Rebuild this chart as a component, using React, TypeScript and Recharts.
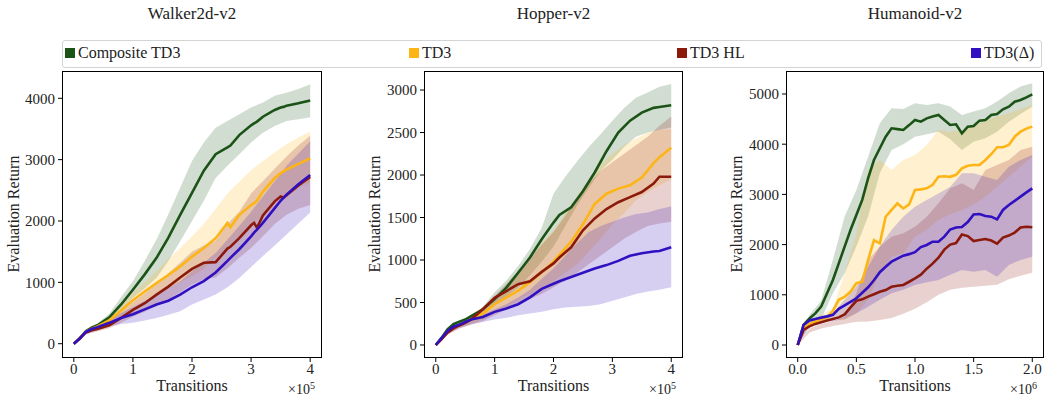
import React from "react";
import { ComposedChart, Line, Area, XAxis, YAxis } from "recharts";

const FONT = "'Liberation Serif', 'Times New Roman', Times, 'DejaVu Serif', 'Nimbus Roman', serif";
const NAMES = ["Composite TD3", "TD3", "TD3 HL", "TD3(Δ)"];
const COLORS = ["#1b5317", "#fdb515", "#8c1a0c", "#3010c0"];

// ---- Walker2d-v2 (x in 1e5 transitions)
const walkerT = [0, 0.1, 0.2, 0.3, 0.4, 0.6, 0.8, 1.0, 1.2, 1.4, 1.6, 1.8, 2.0, 2.2, 2.4, 2.6, 2.65, 2.8, 3.0, 3.05, 3.1, 3.2, 3.4, 3.5, 3.55, 3.6, 3.8, 4.0];
const walkerComposite = [0, 90, 200, 260, 300, 430, 640, 880, 1130, 1400, 1730, 2100, 2460, 2820, 3090, 3200, 3230, 3400, 3560, 3590, 3620, 3700, 3810, 3850, 3860, 3880, 3920, 3965];
const walkerTd3 = [0, 90, 190, 240, 280, 380, 540, 710, 850, 990, 1120, 1260, 1420, 1560, 1720, 1970, 1900, 2100, 2260, 2290, 2330, 2480, 2700, 2780, 2810, 2840, 2930, 3020];
const walkerHl = [0, 80, 180, 220, 240, 300, 420, 550, 660, 800, 930, 1080, 1220, 1320, 1330, 1550, 1580, 1720, 1930, 1970, 1890, 2090, 2320, 2400, 2380, 2420, 2580, 2720];
const walkerDelta = [0, 85, 190, 240, 270, 340, 420, 480, 560, 640, 700, 800, 920, 1020, 1160, 1350, 1400, 1540, 1750, 1810, 1860, 1970, 2210, 2330, 2380, 2430, 2600, 2750];

const walkerBandT = [0, 0.2, 0.4, 0.6, 0.8, 1.0, 1.2, 1.4, 1.6, 1.8, 2.0, 2.2, 2.4, 2.6, 2.8, 3.0, 3.2, 3.4, 3.6, 3.8, 4.0];
const walkerCompositeLo = [0, 170, 260, 360, 530, 750, 900, 1075, 1350, 1670, 2000, 2330, 2700, 2900, 3090, 3280, 3440, 3550, 3630, 3660, 3690];
const walkerCompositeHi = [0, 230, 330, 490, 760, 1020, 1350, 1700, 2110, 2540, 2980, 3280, 3520, 3630, 3740, 3850, 3930, 4040, 4090, 4150, 4230];
const walkerTd3Lo = [0, 160, 240, 320, 450, 590, 700, 800, 900, 1000, 1100, 1220, 1400, 1580, 1750, 1900, 2100, 2300, 2450, 2550, 2620];
const walkerTd3Hi = [0, 220, 320, 450, 640, 830, 1000, 1180, 1380, 1560, 1750, 1950, 2200, 2450, 2640, 2830, 2980, 3120, 3250, 3360, 3460];
const walkerHlLo = [0, 150, 200, 250, 340, 440, 520, 620, 720, 840, 960, 1050, 1080, 1230, 1400, 1560, 1750, 1950, 2100, 2200, 2260];
const walkerHlHi = [0, 210, 280, 380, 520, 680, 820, 980, 1150, 1320, 1500, 1600, 1680, 1950, 2150, 2450, 2650, 2850, 3050, 3230, 3390];
const walkerDeltaLo = [0, 150, 220, 280, 320, 340, 380, 420, 470, 530, 640, 720, 800, 920, 1070, 1250, 1430, 1600, 1780, 1960, 2140];
const walkerDeltaHi = [0, 220, 310, 400, 500, 600, 700, 800, 900, 1020, 1180, 1320, 1480, 1700, 1920, 2150, 2400, 2650, 2900, 3100, 3300];

// ---- Hopper-v2 (x in 1e5 transitions)
const hopperT = [0, 0.1, 0.2, 0.3, 0.4, 0.5, 0.6, 0.8, 1.0, 1.2, 1.4, 1.6, 1.8, 2.0, 2.1, 2.3, 2.5, 2.7, 2.9, 3.1, 3.3, 3.5, 3.7, 3.8, 4.0];
const hopperComposite = [0, 86, 185, 245, 275, 300, 340, 420, 540, 675, 850, 1030, 1245, 1440, 1530, 1620, 1810, 2030, 2280, 2500, 2640, 2735, 2790, 2800, 2820];
const hopperTd3 = [0, 70, 150, 200, 235, 265, 300, 370, 480, 560, 640, 740, 860, 980, 1060, 1215, 1420, 1660, 1780, 1840, 1880, 1970, 2140, 2210, 2320];
const hopperHl = [0, 70, 145, 195, 230, 260, 300, 420, 555, 635, 715, 750, 860, 960, 1030, 1150, 1350, 1490, 1600, 1680, 1740, 1800, 1900, 1980, 1980];
const hopperDelta = [0, 80, 165, 215, 240, 270, 300, 330, 390, 430, 480, 560, 660, 720, 750, 800, 850, 900, 940, 990, 1050, 1080, 1100, 1105, 1150];

const hopperBandT = [0, 0.2, 0.4, 0.6, 0.8, 1.0, 1.2, 1.4, 1.6, 1.8, 2.0, 2.2, 2.4, 2.6, 2.8, 3.0, 3.2, 3.4, 3.6, 3.8, 4.0];
const hopperCompositeLo = [0, 150, 230, 280, 350, 470, 570, 680, 820, 980, 1160, 1400, 1640, 1850, 2050, 2180, 2330, 2450, 2500, 2530, 2560];
const hopperCompositeHi = [0, 210, 280, 340, 450, 620, 760, 930, 1130, 1380, 1780, 1980, 2160, 2330, 2480, 2640, 2790, 2910, 2970, 3040, 3070];
const hopperTd3Lo = [0, 130, 210, 250, 300, 380, 450, 530, 600, 680, 750, 850, 950, 1100, 1250, 1420, 1550, 1700, 1800, 1880, 1950];
const hopperTd3Hi = [0, 190, 270, 330, 420, 560, 690, 830, 1000, 1200, 1350, 1550, 1750, 1950, 2130, 2250, 2350, 2430, 2500, 2530, 2540];
const hopperHlLo = [0, 120, 190, 240, 280, 350, 420, 480, 540, 600, 680, 760, 850, 950, 1050, 1150, 1250, 1330, 1400, 1430, 1450];
const hopperHlHi = [0, 190, 270, 330, 430, 580, 720, 870, 1020, 1180, 1330, 1520, 1720, 1900, 2050, 2150, 2250, 2350, 2450, 2580, 2690];
const hopperDeltaLo = [0, 130, 200, 240, 270, 300, 320, 350, 370, 390, 420, 440, 450, 460, 480, 520, 560, 600, 630, 650, 680];
const hopperDeltaHi = [0, 190, 260, 310, 360, 420, 480, 560, 650, 780, 900, 1050, 1200, 1330, 1400, 1450, 1500, 1540, 1560, 1600, 1630];

// ---- Humanoid-v2 (x in 1e6 transitions)
const humanoidT = [0, 0.05, 0.1, 0.15, 0.2, 0.25, 0.3, 0.35, 0.4, 0.45, 0.5, 0.55, 0.6, 0.65, 0.7, 0.75, 0.8, 0.85, 0.9, 0.95, 1.0, 1.05, 1.1, 1.15, 1.2, 1.25, 1.3, 1.35, 1.4, 1.45, 1.5, 1.55, 1.6, 1.65, 1.7, 1.75, 1.8, 1.85, 1.9, 1.95, 2.0];
const humanoidComposite = [0, 400, 530, 630, 765, 1030, 1295, 1625, 1960, 2290, 2590, 2890, 3320, 3685, 3920, 4150, 4316, 4300, 4283, 4380, 4482, 4449, 4515, 4550, 4582, 4482, 4382, 4396, 4216, 4349, 4362, 4469, 4482, 4582, 4602, 4695, 4748, 4847, 4880, 4934, 4993];
const humanoidTd3 = [0, 330, 420, 470, 510, 550, 680, 900, 960, 1060, 1230, 1260, 1690, 2090, 2025, 2555, 2690, 2820, 2720, 2800, 3090, 3100, 3120, 3190, 3350, 3360, 3350, 3390, 3520, 3570, 3585, 3585, 3685, 3800, 3940, 3940, 3985, 4150, 4250, 4310, 4350];
const humanoidHl = [0, 300, 370, 420, 455, 490, 520, 550, 610, 750, 880, 910, 963, 1010, 1060, 1095, 1160, 1180, 1195, 1260, 1328, 1400, 1520, 1620, 1740, 1900, 2000, 2030, 2200, 2170, 2070, 2090, 2110, 2080, 2020, 2140, 2180, 2240, 2340, 2355, 2345];
const humanoidDelta = [0, 400, 490, 520, 545, 570, 600, 720, 790, 860, 930, 1040, 1150, 1290, 1450, 1560, 1660, 1720, 1780, 1810, 1850, 1950, 1992, 2058, 2058, 2158, 2300, 2340, 2350, 2450, 2600, 2610, 2570, 2556, 2503, 2690, 2789, 2870, 2955, 3040, 3120];

const humanoidBandT = [0, 0.1, 0.2, 0.3, 0.4, 0.5, 0.6, 0.7, 0.8, 0.9, 1.0, 1.1, 1.2, 1.3, 1.4, 1.5, 1.6, 1.7, 1.8, 1.9, 2.0];
const humanoidCompositeLo = [0, 400, 520, 1030, 1430, 1960, 2560, 3420, 3885, 4000, 4150, 4200, 4250, 4100, 3885, 4050, 4117, 4250, 4449, 4600, 4748];
const humanoidCompositeHi = [0, 600, 880, 1700, 2560, 3090, 3750, 4415, 4715, 4700, 4815, 4780, 4815, 4750, 4580, 4650, 4715, 4850, 5013, 5150, 5212];
const humanoidTd3Lo = [0, 380, 450, 520, 500, 630, 896, 1430, 1760, 1826, 2158, 2300, 2490, 2600, 2690, 2800, 2955, 3150, 3350, 3550, 3750];
const humanoidTd3Hi = [0, 480, 600, 730, 1430, 2225, 3486, 3685, 3486, 3685, 3785, 3985, 4283, 4250, 4283, 4350, 4482, 4550, 4615, 4700, 4780];
const humanoidHlLo = [0, 250, 330, 380, 420, 465, 470, 500, 540, 620, 720, 850, 1000, 1100, 1140, 1160, 1180, 1200, 1310, 1380, 1440];
const humanoidHlHi = [0, 330, 420, 480, 560, 1030, 1693, 1960, 2158, 2225, 2357, 2556, 2822, 3120, 3220, 3088, 3486, 3585, 3685, 3885, 3950];
const humanoidDeltaLo = [0, 350, 440, 480, 520, 630, 764, 900, 1030, 1100, 1195, 1250, 1295, 1400, 1494, 1460, 1494, 1361, 1594, 1693, 1760];
const humanoidDeltaHi = [0, 450, 560, 640, 900, 1160, 1560, 1960, 2290, 2556, 2756, 2889, 3020, 3154, 3420, 3420, 3350, 3287, 3552, 3685, 3785];

type Row = { t: number; [k: string]: any };

function meanRows(t: number[], cols: number[][]): Row[] {
  return t.map((x, i) => {
    const r: Row = { t: x };
    cols.forEach((c, j) => (r["s" + j] = c[i]));
    return r;
  });
}

function bandRows(t: number[], lo: number[][], hi: number[][]): Row[] {
  return t.map((x, i) => {
    const r: Row = { t: x };
    lo.forEach((c, j) => (r["b" + j] = [c[i], hi[j][i]]));
    return r;
  });
}

const PLOT_TOP = 71;
const PLOT_H = 287;

const panels = [
  {
    title: "Walker2d-v2",
    left: 62,
    width: 260,
    xDomain: [-0.2, 4.2],
    xTicks: [0, 1, 2, 3, 4],
    fmt: (v: number) => String(v),
    yDomain: [-233, 4445],
    yTicks: [0, 1000, 2000, 3000, 4000],
    exp: "5",
    yLabelX: 14,
    mean: meanRows(walkerT, [walkerComposite, walkerTd3, walkerHl, walkerDelta]),
    band: bandRows(walkerBandT,
      [walkerCompositeLo, walkerTd3Lo, walkerHlLo, walkerDeltaLo],
      [walkerCompositeHi, walkerTd3Hi, walkerHlHi, walkerDeltaHi]),
  },
  {
    title: "Hopper-v2",
    left: 424,
    width: 259,
    xDomain: [-0.2, 4.2],
    xTicks: [0, 1, 2, 3, 4],
    fmt: (v: number) => String(v),
    yDomain: [-153, 3224],
    yTicks: [0, 500, 1000, 1500, 2000, 2500, 3000],
    exp: "5",
    yLabelX: 375,
    mean: meanRows(hopperT, [hopperComposite, hopperTd3, hopperHl, hopperDelta]),
    band: bandRows(hopperBandT,
      [hopperCompositeLo, hopperTd3Lo, hopperHlLo, hopperDeltaLo],
      [hopperCompositeHi, hopperTd3Hi, hopperHlHi, hopperDeltaHi]),
  },
  {
    title: "Humanoid-v2",
    left: 786,
    width: 258,
    xDomain: [-0.1, 2.1],
    xTicks: [0, 0.5, 1, 1.5, 2],
    fmt: (v: number) => v.toFixed(1),
    yDomain: [-259, 5458],
    yTicks: [0, 1000, 2000, 3000, 4000, 5000],
    exp: "6",
    yLabelX: 737,
    mean: meanRows(humanoidT, [humanoidComposite, humanoidTd3, humanoidHl, humanoidDelta]),
    band: bandRows(humanoidBandT,
      [humanoidCompositeLo, humanoidTd3Lo, humanoidHlLo, humanoidDeltaLo],
      [humanoidCompositeHi, humanoidTd3Hi, humanoidHlHi, humanoidDeltaHi]),
  },
];

const tickStyle = { fontFamily: FONT, fontSize: 15, fill: "#222" };

function Panel({ p }: { p: (typeof panels)[number] }) {
  const yAxisW = 60;
  const mr = 2;
  const w = yAxisW + p.width + mr;
  const h = 11 + PLOT_H + 40;
  const cx = p.left + p.width / 2;
  return (
    <>
      <div style={{ position: "absolute", left: cx - 100, width: 200, top: 4, textAlign: "center", fontFamily: FONT, fontSize: 17, color: "#222" }}>
        {p.title}
      </div>
      <div style={{ position: "absolute", left: p.left - yAxisW, top: PLOT_TOP - 11 }}>
        <ComposedChart width={w} height={h} data={p.mean} margin={{ top: 11, right: mr, bottom: 0, left: 0 }}>
          <XAxis
            type="number"
            dataKey="t"
            domain={p.xDomain}
            ticks={p.xTicks}
            interval={0}
            allowDataOverflow
            axisLine={false}
            tickLine={{ stroke: "#000" }}
            tickSize={4}
            tickMargin={1}
            tick={tickStyle}
            tickFormatter={p.fmt}
            height={40}
          />
          <YAxis
            type="number"
            domain={p.yDomain}
            ticks={p.yTicks}
            interval={0}
            allowDataOverflow
            axisLine={false}
            tickLine={{ stroke: "#000" }}
            tickSize={4}
            tickMargin={3}
            tick={tickStyle}
            width={yAxisW}
          />
          {COLORS.map((c, j) => (
            <Area
              key={"b" + j}
              data={p.band}
              dataKey={"b" + j}
              type="linear"
              stroke="none"
              fill={c}
              fillOpacity={0.2}
              isAnimationActive={false}
            />
          ))}
          {COLORS.map((c, j) => (
            <Line
              key={"s" + j}
              dataKey={"s" + j}
              type="linear"
              stroke={c}
              strokeWidth={2.6}
              dot={false}
              isAnimationActive={false}
            />
          ))}
        </ComposedChart>
      </div>
      <div style={{ position: "absolute", left: p.left, top: PLOT_TOP, width: p.width, height: PLOT_H, border: "1px solid #000", boxSizing: "border-box", pointerEvents: "none" }} />
      <div style={{ position: "absolute", left: cx - 60, width: 120, top: 377, textAlign: "center", fontFamily: FONT, fontSize: 16, color: "#222" }}>
        Transitions
      </div>
      <div style={{ position: "absolute", left: p.left + p.width - 34, top: 381, fontFamily: FONT, fontSize: 14, lineHeight: "14px", color: "#222", whiteSpace: "nowrap" }}>
        ×10<sup style={{ fontSize: 10, lineHeight: "10px", verticalAlign: "5px" }}>{p.exp}</sup>
      </div>
      <div
        style={{
          position: "absolute",
          left: p.yLabelX - 80,
          width: 160,
          top: PLOT_TOP + PLOT_H / 2 - 10,
          textAlign: "center",
          fontFamily: FONT,
          fontSize: 16,
          color: "#222",
          transform: "rotate(-90deg)",
          whiteSpace: "nowrap",
        }}
      >
        Evaluation Return
      </div>
    </>
  );
}

const legendX = [65, 409, 677, 971];

export default function App() {
  return (
    <div style={{ position: "absolute", left: 0, top: 0, width: 1045, height: 396, background: "#fff", overflow: "hidden" }}>
      <div style={{ position: "absolute", left: 62, top: 40, width: 980, height: 28, border: "1px solid #d4d4d4", borderRadius: 3, boxSizing: "border-box" }} />
      {NAMES.map((n, i) => (
        <div key={n} style={{ position: "absolute", left: legendX[i], top: 44, display: "flex", alignItems: "center", fontFamily: FONT, fontSize: 16, color: "#222", whiteSpace: "nowrap" }}>
          <span style={{ display: "inline-block", width: 10, height: 10, background: COLORS[i], marginRight: 3 }} />
          {n}
        </div>
      ))}
      {panels.map((p) => (
        <Panel key={p.title} p={p} />
      ))}
    </div>
  );
}
